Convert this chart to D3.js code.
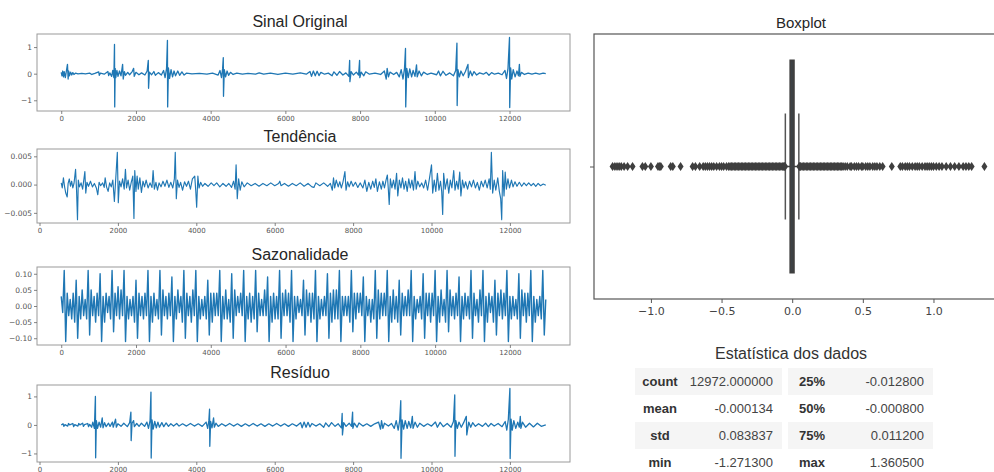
<!DOCTYPE html>
<html><head><meta charset="utf-8">
<script src="https://cdn.jsdelivr.net/npm/d3@7"></script>
<style>body{margin:0;background:#fff}</style>
</head><body><svg id="c" width="994" height="472"></svg>
<script>
// ---------- DATA ----------
const xTicks = [0, 2000, 4000, 6000, 8000, 10000, 12000];

const sinal = [
[0,0.05],[20,-0.08],[40,0.1],[60,-0.12],[80,0.08],[110,-0.15],[140,0.12],[167,0.35],[185,-0.2],[200,0.1],[220,-0.08],[250,0.06],[280,-0.05],[310,0.04],[340,-0.03],[380,0.02],[450,-0.01],[550,0.01],[650,-0.01],[760,0.02],[820,-0.03],[900,0.01],[1003,0.07],[1020,-0.06],[1050,0.02],[1150,-0.02],[1250,0.08],[1270,-0.07],[1300,0.03],[1350,-0.1],[1380,0.12],[1410,-0.15],[1426,1.1],[1432,-1.25],[1445,0.2],[1460,-0.15],[1490,0.12],[1520,-0.1],[1560,0.1],[1600,-0.08],[1643,0.35],[1660,-0.2],[1690,0.08],[1720,-0.06],[1780,0.05],[1830,-0.04],[1900,0.08],[1938,0.2],[1955,-0.1],[2000,0.05],[2080,-0.04],[2150,0.03],[2240,-0.05],[2300,0.1],[2331,0.5],[2338,-0.55],[2360,0.06],[2420,-0.04],[2480,0.08],[2520,-0.06],[2600,0.04],[2680,-0.05],[2740,0.12],[2780,-0.15],[2820,0.2],[2843,1.25],[2849,-1.25],[2870,0.22],[2900,-0.18],[2940,0.15],[2980,-0.12],[3020,0.1],[3060,-0.08],[3120,0.1],[3170,-0.06],[3230,0.07],[3290,-0.05],[3350,0.02],[3500,-0.01],[3700,0.01],[3900,-0.02],[4050,0.02],[4200,-0.05],[4250,0.12],[4290,-0.15],[4320,0.18],[4338,0.6],[4344,-0.85],[4365,0.15],[4400,-0.12],[4440,0.1],[4480,-0.06],[4530,0.05],[4600,-0.03],[4700,0.02],[4850,-0.02],[5000,0.01],[5200,-0.02],[5300,0.03],[5420,-0.02],[5600,0.02],[5800,-0.03],[6000,0.02],[6200,-0.02],[6400,0.03],[6560,-0.02],[6660,0.08],[6700,-0.1],[6750,0.1],[6800,-0.08],[6850,0.09],[6900,-0.07],[6950,0.05],[7050,-0.02],[7150,0.02],[7250,-0.08],[7300,0.07],[7380,-0.06],[7450,0.08],[7540,-0.05],[7620,0.03],[7700,-0.1],[7721,0.5],[7728,-0.3],[7760,0.08],[7820,-0.05],[7900,0.06],[7960,-0.05],[7987,0.5],[7994,-0.15],[8030,0.06],[8100,-0.08],[8150,0.07],[8250,-0.02],[8400,0.02],[8550,-0.03],[8650,0.1],[8700,-0.2],[8725,0.2],[8760,-0.12],[8800,0.06],[8900,-0.03],[8980,0.05],[9050,-0.12],[9100,0.15],[9150,-0.2],[9190,0.2],[9216,0.95],[9222,-1.25],[9250,0.2],[9290,-0.15],[9330,0.18],[9380,-0.12],[9420,0.12],[9470,-0.1],[9511,0.33],[9530,-0.12],[9580,0.1],[9640,-0.08],[9700,0.06],[9800,-0.03],[9900,0.02],[10050,-0.04],[10100,0.1],[10150,-0.08],[10220,0.09],[10300,-0.06],[10400,0.03],[10500,-0.08],[10560,0.12],[10593,1.15],[10599,-1.2],[10620,0.15],[10660,-0.12],[10700,0.1],[10760,-0.08],[10820,0.08],[10888,0.35],[10900,-0.15],[10950,0.1],[11000,-0.08],[11050,0.08],[11120,-0.05],[11200,0.03],[11300,-0.02],[11380,0.05],[11450,-0.06],[11520,0.04],[11600,-0.02],[11700,0.02],[11800,-0.04],[11880,0.12],[11920,-0.18],[11960,0.2],[12000,1.3605],[12006,-1.2713],[12030,0.22],[12060,-0.2],[12100,0.15],[12150,-0.12],[12200,0.1],[12240,-0.08],[12265,0.35],[12280,-0.1],[12320,0.05],[12400,-0.03],[12500,0.02],[12600,-0.02],[12700,0.02],[12800,-0.02],[12900,0.02],[12971,0.0]
];

const tendencia = [
[554,0.0003],[580,-0.0006],[610,0.0012],[640,-0.0004],[670,-0.0015],[706,-0.0022],[730,0.0002],[760,0.0010],[790,-0.0003],[820,0.0006],[850,-0.0006],[880,0.0002],[920,0.0027],[945,-0.0010],[969,-0.0062],[990,0.0008],[1020,-0.0004],[1060,0.0003],[1100,-0.0008],[1157,0.0023],[1180,-0.0015],[1210,0.0004],[1250,-0.0003],[1300,0.0006],[1350,-0.0004],[1400,0.0002],[1450,-0.0006],[1487,-0.0018],[1520,0.0004],[1560,-0.0002],[1610,0.0003],[1650,-0.0005],[1675,0.0012],[1710,-0.0004],[1750,-0.0012],[1790,0.0003],[1830,-0.0004],[1870,0.0008],[1910,-0.0030],[1940,0.0005],[1985,0.0057],[2010,-0.0032],[2040,0.0006],[2080,-0.0004],[2120,0.0010],[2160,-0.0008],[2192,0.0027],[2220,-0.0006],[2260,0.0008],[2300,-0.0010],[2340,0.0004],[2380,0.0015],[2409,-0.0060],[2430,0.0025],[2460,-0.0012],[2490,0.0015],[2520,-0.0008],[2560,0.0012],[2600,-0.0014],[2640,0.0006],[2680,-0.0004],[2720,0.0008],[2770,-0.0006],[2820,0.0003],[2870,-0.0005],[2898,0.0025],[2930,-0.0008],[2970,0.0004],[3010,-0.0010],[3050,0.0003],[3100,-0.0004],[3150,0.0006],[3200,-0.0003],[3250,0.0008],[3300,-0.0005],[3350,0.0004],[3400,-0.0006],[3440,0.0010],[3463,0.0057],[3490,-0.0025],[3520,0.0008],[3560,-0.0005],[3600,0.0004],[3650,-0.0010],[3700,0.0005],[3750,-0.0003],[3800,0.0006],[3850,-0.0008],[3900,0.0010],[3960,0.0015],[3985,-0.0010],[4009,-0.0040],[4040,0.0015],[4070,-0.0006],[4110,0.0004],[4160,-0.0003],[4220,0.0002],[4300,-0.0003],[4380,0.0003],[4450,-0.0002],[4520,0.0003],[4600,-0.0004],[4680,0.0002],[4760,-0.0003],[4830,0.0002],[4900,-0.0005],[4950,0.0006],[4990,-0.0008],[5015,0.0035],[5045,-0.0025],[5080,0.0010],[5120,-0.0010],[5160,0.0005],[5220,-0.0004],[5300,0.0003],[5400,-0.0002],[5500,0.0002],[5600,-0.0003],[5700,0.0002],[5800,-0.0002],[5900,0.0003],[6000,-0.0002],[6100,0.0002],[6130,0.0006],[6160,-0.0002],[6250,0.0002],[6350,-0.0003],[6450,0.0002],[6550,-0.0002],[6650,0.0003],[6750,-0.0003],[6850,0.0002],[6950,-0.0004],[7000,-0.0005],[7050,0.0003],[7150,-0.0002],[7250,0.0003],[7350,-0.0003],[7420,0.0002],[7470,-0.0010],[7500,0.0012],[7530,-0.0006],[7570,0.0008],[7620,-0.0004],[7660,0.0005],[7700,-0.0006],[7740,0.0004],[7791,0.0023],[7820,-0.0010],[7860,0.0005],[7900,-0.0004],[7950,0.0006],[8000,-0.0003],[8060,0.0004],[8120,-0.0005],[8180,0.0003],[8250,-0.0006],[8300,0.0008],[8350,-0.0012],[8400,0.0004],[8450,-0.0008],[8500,0.0006],[8540,-0.0005],[8580,0.0010],[8620,-0.0012],[8670,0.0005],[8720,-0.0008],[8760,0.0006],[8800,-0.0006],[8840,0.0008],[8874,0.0017],[8900,-0.0010],[8921,-0.0035],[8950,0.0010],[8990,-0.0006],[9030,0.0008],[9070,-0.0008],[9109,0.0020],[9140,-0.0020],[9180,0.0008],[9220,-0.0006],[9260,0.0012],[9300,-0.0008],[9340,0.0006],[9380,-0.0012],[9420,0.0010],[9460,-0.0006],[9500,0.0008],[9540,-0.0010],[9579,0.0023],[9610,-0.0008],[9650,0.0006],[9700,-0.0004],[9750,0.0003],[9800,-0.0006],[9850,0.0008],[9900,-0.0010],[9950,0.0012],[10000,0.0035],[10030,-0.0015],[10070,0.0008],[10110,-0.0012],[10150,0.0020],[10190,-0.0010],[10230,0.0006],[10260,-0.0012],[10285,-0.0053],[10310,0.0020],[10350,-0.0008],[10400,0.0010],[10440,-0.0015],[10480,0.0008],[10520,-0.0006],[10567,0.0025],[10600,-0.0010],[10640,0.0006],[10680,-0.0008],[10720,0.0022],[10750,-0.0020],[10790,0.0008],[10830,-0.0006],[10870,0.0005],[10920,-0.0008],[10970,0.0006],[11020,-0.0004],[11070,0.0008],[11120,-0.0006],[11170,0.0004],[11220,-0.0010],[11270,0.0006],[11320,-0.0004],[11370,0.0008],[11420,-0.0006],[11470,0.0010],[11500,-0.0008],[11527,0.0057],[11560,-0.0015],[11600,0.0008],[11640,-0.0010],[11690,0.0012],[11730,-0.0012],[11765,-0.0025],[11791,-0.0062],[11815,0.0025],[11850,-0.0020],[11880,0.0022],[11910,-0.0008],[11950,0.0010],[11990,-0.0006],[12040,0.0008],[12080,-0.0004],[12130,0.0005],[12180,-0.0003],[12240,0.0004],[12300,-0.0003],[12360,0.0003],[12420,-0.0002],[12480,0.0003],[12540,-0.0002],[12600,0.0002],[12660,-0.0003],[12720,0.0002],[12780,-0.0002],[12850,0.0001],[12915,-0.0001]
];

const sazonalidadeStep = 40;
const sazonalidade = [
0.03,-0.02,0.11,-0.11,0.04,-0.03,0.02,-0.04,
0.04,-0.05,0.08,-0.10,0.03,-0.04,0.05,-0.03,
0.02,-0.04,0.11,-0.09,0.05,-0.03,0.03,-0.05,
0.04,-0.03,0.10,-0.11,0.03,-0.05,0.04,-0.02,
0.03,-0.04,0.11,-0.08,0.04,-0.03,0.06,-0.04,
0.05,-0.03,0.11,-0.11,0.03,-0.04,0.02,-0.03,
0.03,-0.05,0.08,-0.10,0.04,-0.03,0.03,-0.04,
0.04,-0.03,0.11,-0.11,0.03,-0.05,0.04,-0.03,
0.02,-0.04,0.11,-0.09,0.05,-0.03,0.03,-0.04,
0.04,-0.03,0.09,-0.11,0.03,-0.04,0.05,-0.02,
0.03,-0.05,0.11,-0.10,0.04,-0.03,0.03,-0.05,
0.05,-0.03,0.11,-0.11,0.03,-0.04,0.02,-0.03,
0.03,-0.04,0.08,-0.09,0.04,-0.05,0.04,-0.03,
0.04,-0.03,0.11,-0.11,0.03,-0.04,0.05,-0.04,
0.02,-0.05,0.10,-0.10,0.05,-0.03,0.03,-0.02,
0.04,-0.03,0.11,-0.11,0.03,-0.04,0.04,-0.05,
0.03,-0.04,0.11,-0.08,0.04,-0.03,0.02,-0.03,
0.05,-0.03,0.09,-0.11,0.03,-0.05,0.04,-0.04,
0.03,-0.04,0.11,-0.10,0.04,-0.03,0.05,-0.03,
0.04,-0.05,0.11,-0.11,0.03,-0.04,0.03,-0.02,
0.02,-0.03,0.08,-0.09,0.05,-0.03,0.04,-0.05,
0.04,-0.04,0.11,-0.11,0.03,-0.04,0.02,-0.03,
0.03,-0.03,0.10,-0.10,0.04,-0.05,0.05,-0.04,
0.05,-0.04,0.11,-0.11,0.03,-0.03,0.03,-0.03,
0.03,-0.05,0.11,-0.08,0.04,-0.04,0.04,-0.02,
0.04,-0.03,0.09,-0.11,0.03,-0.03,0.02,-0.05,
0.02,-0.04,0.11,-0.10,0.05,-0.04,0.04,-0.03,
0.04,-0.03,0.11,-0.11,0.03,-0.05,0.05,-0.04,
0.03,-0.05,0.08,-0.09,0.04,-0.03,0.03,-0.03,
0.05,-0.03,0.11,-0.11,0.03,-0.04,0.02,-0.02,
0.03,-0.04,0.10,-0.10,0.04,-0.03,0.04,-0.05,
0.04,-0.03,0.11,-0.11,0.03,-0.05,0.05,-0.03,
0.02,-0.05,0.11,-0.08,0.05,-0.03,0.03,-0.04,
0.04,-0.03,0.09,-0.11,0.03,-0.04,0.04,-0.03,
0.03,-0.04,0.11,-0.10,0.04,-0.03,0.02,-0.05,
0.05,-0.03,0.11,-0.11,0.03,-0.05,0.04,-0.02,
0.03,-0.05,0.08,-0.09,0.04,-0.03,0.05,-0.04,
0.04,-0.03,0.11,-0.11,0.03,-0.04,0.03,-0.03,
0.02,-0.04,0.10,-0.10,0.05,-0.03,0.04,-0.05,
0.04,-0.03,0.11,-0.11,0.03,-0.05,0.02,-0.03,
0.03,-0.04,0.11,-0.09,0.02
];

const residuo = [
[554,0.0],[600,0.04],[620,-0.05],[650,0.01],[720,-0.04],[740,0.05],[770,0.0],[850,0.05],[870,-0.06],[900,0.01],[980,-0.04],[1000,0.05],[1030,0.0],[1100,0.06],[1120,-0.05],[1150,0.01],[1230,0.05],[1250,-0.06],[1280,0.02],[1330,-0.08],[1360,0.1],[1400,-0.12],[1426,1.0],[1432,-1.15],[1450,0.15],[1480,-0.12],[1520,0.1],[1560,-0.08],[1600,0.25],[1620,-0.1],[1660,0.08],[1700,-0.06],[1760,0.06],[1800,-0.05],[1860,0.1],[1880,-0.08],[1940,0.2],[1960,-0.08],[2000,0.04],[2080,-0.05],[2150,0.06],[2240,-0.06],[2300,0.08],[2331,0.45],[2338,-0.55],[2360,0.06],[2400,0.15],[2420,-0.06],[2480,0.05],[2540,-0.05],[2600,0.06],[2680,-0.05],[2740,0.1],[2780,-0.12],[2820,0.15],[2843,1.15],[2849,-1.16],[2870,0.18],[2900,-0.15],[2940,0.12],[2980,-0.1],[3020,0.1],[3060,-0.08],[3120,0.08],[3170,-0.06],[3230,0.07],[3290,-0.05],[3350,0.04],[3420,-0.04],[3500,0.05],[3560,-0.04],[3650,0.04],[3750,-0.04],[3850,0.05],[3950,-0.04],[4050,0.04],[4150,-0.05],[4250,0.1],[4290,-0.12],[4320,0.15],[4338,0.55],[4344,-0.75],[4365,0.12],[4400,-0.1],[4440,0.25],[4460,-0.08],[4500,0.06],[4560,-0.05],[4650,0.04],[4750,-0.04],[4850,0.05],[4950,-0.04],[5050,0.04],[5150,-0.05],[5250,0.04],[5350,-0.04],[5450,0.05],[5550,-0.04],[5650,0.04],[5750,-0.05],[5850,0.04],[5950,-0.04],[6050,0.05],[6150,-0.04],[6250,0.04],[6350,-0.05],[6450,0.04],[6560,-0.04],[6660,0.08],[6700,-0.1],[6750,0.1],[6800,-0.08],[6850,0.09],[6900,-0.07],[6950,0.05],[7050,-0.04],[7150,0.04],[7250,-0.08],[7300,0.07],[7380,-0.06],[7450,0.08],[7540,-0.05],[7620,0.04],[7700,-0.1],[7721,0.4],[7728,-0.35],[7760,0.08],[7820,-0.05],[7900,0.06],[7960,-0.05],[7987,0.45],[7994,-0.12],[8030,0.06],[8100,-0.08],[8150,0.07],[8250,-0.04],[8350,0.04],[8450,-0.05],[8550,0.04],[8650,0.1],[8700,-0.15],[8725,0.15],[8760,-0.12],[8800,0.06],[8900,-0.04],[8980,0.05],[9050,-0.12],[9100,0.15],[9150,-0.18],[9190,0.18],[9216,0.85],[9222,-1.17],[9250,0.18],[9290,-0.15],[9330,0.15],[9380,-0.12],[9420,0.12],[9470,-0.1],[9511,0.3],[9530,-0.12],[9580,0.1],[9640,-0.08],[9700,0.06],[9800,-0.05],[9900,0.04],[10000,-0.04],[10100,0.1],[10150,-0.08],[10220,0.09],[10300,-0.06],[10400,0.05],[10500,-0.08],[10560,0.12],[10593,1.05],[10599,-1.1],[10620,0.15],[10660,-0.12],[10700,0.1],[10760,-0.08],[10820,0.08],[10888,0.3],[10900,-0.35],[10950,0.1],[11000,-0.08],[11050,0.08],[11120,-0.05],[11200,0.04],[11300,-0.05],[11380,0.06],[11450,-0.06],[11520,0.05],[11600,-0.04],[11700,0.05],[11800,-0.06],[11880,0.12],[11920,-0.18],[11960,0.2],[12000,1.277],[12006,-1.177],[12030,0.2],[12060,-0.18],[12100,0.15],[12150,-0.12],[12200,0.1],[12240,-0.08],[12265,0.3],[12280,-0.12],[12320,0.1],[12400,-0.08],[12500,0.06],[12600,-0.07],[12700,0.06],[12800,-0.05],[12915,0.0]
];

const sinalYTicks = [-1, 0, 1];
const tendenciaYTicks = [-0.005, 0, 0.005];
const sazonalidadeYTicks = [-0.10, -0.05, 0, 0.05, 0.10];
const residuoYTicks = [-1, 0, 1];

// Boxplot summary
const boxQ1 = -0.0128, boxMedian = -0.0008, boxQ3 = 0.0112;
const whiskerLow = -0.0485, whiskerHigh = 0.047;
const boxXTicks = [-1.0, -0.5, 0.0, 0.5, 1.0];
const outliers = [
-1.2713,-1.255,-1.24,-1.225,-1.21,-1.19,-1.165,-1.13,
-1.06,-1.04,-1.0,-0.95,-0.94,-0.93,-0.86,-0.845,-0.79,
-0.705,-0.685,-0.655,-0.63,-0.615,-0.6,-0.585,-0.57,-0.555,-0.535,-0.515,-0.5,-0.485,-0.465,
-0.45,-0.44,-0.43,-0.42,-0.41,-0.40,-0.39,-0.38,-0.37,-0.36,-0.35,-0.34,-0.33,-0.32,-0.31,-0.30,-0.29,-0.28,-0.27,-0.26,-0.25,-0.24,-0.23,-0.22,-0.21,-0.20,-0.19,-0.18,-0.17,-0.16,-0.15,-0.14,-0.13,-0.12,-0.11,-0.10,-0.09,-0.08,-0.07,-0.06,-0.055,-0.05,
0.05,0.055,0.06,0.07,0.08,0.09,0.10,0.11,0.12,0.13,0.14,0.15,0.16,0.17,0.18,0.19,0.20,0.21,0.22,0.23,0.24,0.25,0.26,0.27,0.28,0.29,0.30,0.31,0.32,0.33,0.34,0.35,0.36,
0.375,0.39,0.41,0.42,0.44,0.455,0.47,0.49,0.5,0.52,0.535,0.55,0.57,0.585,0.6,0.62,0.64,
0.705,
0.765,0.78,0.8,0.815,0.83,0.85,0.87,0.885,0.9,0.92,0.94,0.955,0.97,0.985,1.0,1.02,1.04,1.06,1.09,1.12,1.15,1.18,1.21,1.23,1.25,1.27,
1.3605
];

// Statistics table
const statLabelsLeft = ["count", "mean", "std", "min"];
const statValuesLeft = [12972.0, -0.000134, 0.083837, -1.2713];
const statLabelsRight = ["25%", "50%", "75%", "max"];
const statValuesRight = [-0.0128, -0.0008, 0.0112, 1.3605];

// ---------- DRAW ----------
const svg = d3.select("#c");
svg.append("rect").attr("width", 994).attr("height", 472).attr("fill", "#fff");

const minus = s => String(s).replace("-", "\u2212");
const padExtent = ext => { const m = (ext[1] - ext[0]) * 0.05; return [ext[0] - m, ext[1] + m]; };
const sazPairs = sazonalidade.map((v, i) => [i * sazonalidadeStep, v]);

const titleFont = "'Liberation Sans', Arial, sans-serif";
const tickFont = "'DejaVu Sans', sans-serif";
const L = { x0: 37, x1: 570 };

const panels = [
  { title: "Sinal Original", data: sinal, top: 34, bottom: 111, yTicks: sinalYTicks, fmt: d => minus(d), sw: 1.3 },
  { title: "Tendência", data: tendencia, top: 149, bottom: 223, yTicks: tendenciaYTicks, fmt: d => minus(d.toFixed(3)), sw: 1.15 },
  { title: "Sazonalidade", data: sazPairs, top: 267, bottom: 345, yTicks: sazonalidadeYTicks, fmt: d => minus(d.toFixed(2)), sw: 1.4 },
  { title: "Resíduo", data: residuo, top: 385, bottom: 462, yTicks: residuoYTicks, fmt: d => minus(d), sw: 1.3 }
];

function styleAxis(g, size) {
  g.select(".domain").remove();
  g.selectAll("line").attr("stroke", "#666").attr("stroke-width", 0.8);
  g.selectAll("text").attr("fill", "#555").attr("font-family", tickFont).attr("font-size", size);
}

panels.forEach(p => {
  const x = d3.scaleLinear().domain(padExtent(d3.extent(p.data, d => d[0]))).range([L.x0, L.x1]);
  const y = d3.scaleLinear().domain(padExtent(d3.extent(p.data, d => d[1]))).range([p.bottom, p.top]);
  const g = svg.append("g");
  g.append("path").datum(p.data)
    .attr("d", d3.line().x(d => x(d[0])).y(d => y(d[1])))
    .attr("fill", "none").attr("stroke", "#1f77b4").attr("stroke-width", p.sw)
    .attr("stroke-linejoin", "round");
  g.append("rect").attr("x", L.x0).attr("y", p.top).attr("width", L.x1 - L.x0).attr("height", p.bottom - p.top)
    .attr("fill", "none").attr("stroke", "#9a9a9a").attr("stroke-width", 1);
  const ax = g.append("g").attr("transform", `translate(0,${p.bottom})`)
    .call(d3.axisBottom(x).tickValues(xTicks).tickSize(3).tickSizeOuter(0).tickPadding(2).tickFormat(d => d));
  styleAxis(ax, 7);
  const ay = g.append("g").attr("transform", `translate(${L.x0},0)`)
    .call(d3.axisLeft(y).tickValues(p.yTicks).tickSize(3).tickSizeOuter(0).tickPadding(2).tickFormat(p.fmt));
  styleAxis(ay, 7.5);
  g.append("text").text(p.title).attr("x", 300).attr("y", p.top - 7)
    .attr("text-anchor", "middle").attr("font-family", titleFont).attr("font-size", 16).attr("fill", "#262626");
});

// Boxplot
const bTop = 34, bBottom = 299;
const bx = d3.scaleLinear().domain(padExtent([d3.min(outliers), d3.max(outliers)])).range([594, 1003]);
const by = d3.scaleLinear().domain([0.5, -0.5]).range([bBottom, bTop]);
const bg = svg.append("g");
const grey = "#3f3f3f";
bg.append("line").attr("x1", bx(whiskerLow)).attr("x2", bx(boxQ1)).attr("y1", by(0)).attr("y2", by(0)).attr("stroke", grey).attr("stroke-width", 1.5);
bg.append("line").attr("x1", bx(boxQ3)).attr("x2", bx(whiskerHigh)).attr("y1", by(0)).attr("y2", by(0)).attr("stroke", grey).attr("stroke-width", 1.5);
[whiskerLow, whiskerHigh].forEach(v => {
  bg.append("line").attr("x1", bx(v)).attr("x2", bx(v)).attr("y1", by(-0.2)).attr("y2", by(0.2))
    .attr("stroke", "#555").attr("stroke-width", 1.5);
});
bg.append("rect").attr("x", bx(boxQ1)).attr("width", bx(boxQ3) - bx(boxQ1))
  .attr("y", by(-0.4)).attr("height", by(0.4) - by(-0.4))
  .attr("fill", "#3a5466").attr("stroke", grey).attr("stroke-width", 2);
bg.append("line").attr("x1", bx(boxMedian)).attr("x2", bx(boxMedian)).attr("y1", by(-0.4)).attr("y2", by(0.4))
  .attr("stroke", grey).attr("stroke-width", 1.5);
bg.selectAll("path.flier").data(outliers).enter().append("path").attr("class", "flier")
  .attr("d", "M0,-4.5L3,0L0,4.5L-3,0Z")
  .attr("transform", d => `translate(${bx(d)},${by(0)})`)
  .attr("fill", grey);
bg.append("rect").attr("x", 594).attr("y", bTop).attr("width", 1003 - 594).attr("height", bBottom - bTop)
  .attr("fill", "none").attr("stroke", "#555").attr("stroke-width", 1.2);
const bax = bg.append("g").attr("transform", `translate(0,${bBottom})`)
  .call(d3.axisBottom(bx).tickValues(boxXTicks).tickSize(4).tickSizeOuter(0).tickPadding(4).tickFormat(d3.format(".1f")));
styleAxis(bax, 11);
bax.selectAll("text").attr("fill", "#444");
bax.selectAll("line").attr("stroke", "#555").attr("stroke-width", 1);
const bay = bg.append("g").attr("transform", `translate(594,0)`)
  .call(d3.axisLeft(by).tickValues([0]).tickSize(4).tickSizeOuter(0).tickFormat(""));
styleAxis(bay, 11);
bay.selectAll("line").attr("stroke", "#555").attr("stroke-width", 1);
bg.append("text").text("Boxplot").attr("x", 801).attr("y", 28).attr("text-anchor", "middle")
  .attr("font-family", titleFont).attr("font-size", 15).attr("fill", "#262626");

// Table
const tg = svg.append("g");
tg.append("text").text("Estatística dos dados").attr("x", 791).attr("y", 359).attr("text-anchor", "middle")
  .attr("font-family", titleFont).attr("font-size", 16).attr("fill", "#333");
const rowTop = 368, rowH = 27;
statLabelsLeft.forEach((lab, i) => {
  const y0 = rowTop + i * rowH;
  if (i % 2 === 0) {
    tg.append("rect").attr("x", 635).attr("y", y0).attr("width", 147).attr("height", rowH).attr("fill", "#f5f5f5");
    tg.append("rect").attr("x", 788).attr("y", y0).attr("width", 145).attr("height", rowH).attr("fill", "#f5f5f5");
  }
  const cy = y0 + rowH / 2 + 4.5;
  tg.append("text").text(lab).attr("x", 660).attr("y", cy).attr("text-anchor", "middle")
    .attr("font-family", titleFont).attr("font-size", 13).attr("font-weight", "bold").attr("fill", "#333");
  tg.append("text").text(statValuesLeft[i].toFixed(6)).attr("x", 773).attr("y", cy).attr("text-anchor", "end")
    .attr("font-family", titleFont).attr("font-size", 13).attr("fill", "#444");
  tg.append("text").text(statLabelsRight[i]).attr("x", 799).attr("y", cy).attr("text-anchor", "start")
    .attr("font-family", titleFont).attr("font-size", 13).attr("font-weight", "bold").attr("fill", "#333");
  tg.append("text").text(statValuesRight[i].toFixed(6)).attr("x", 924).attr("y", cy).attr("text-anchor", "end")
    .attr("font-family", titleFont).attr("font-size", 13).attr("fill", "#444");
});
</script>
</body></html>
